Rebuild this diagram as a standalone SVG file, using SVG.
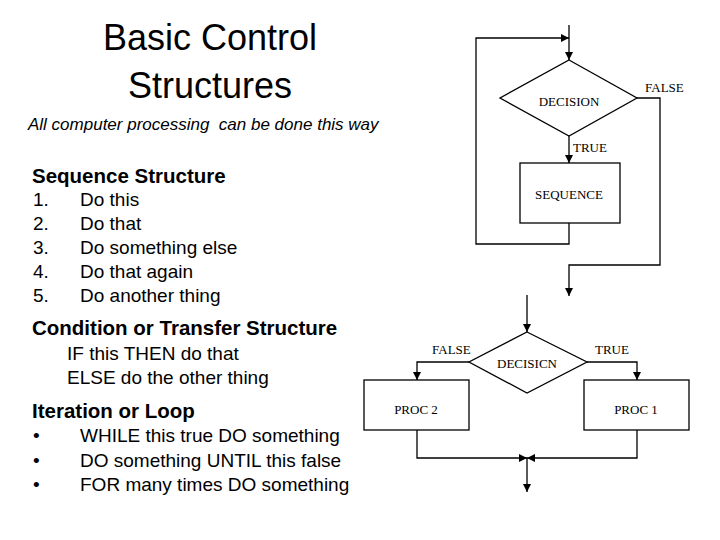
<svg xmlns="http://www.w3.org/2000/svg" width="720" height="540" viewBox="0 0 720 540">
<style>
.t{font-family:"Liberation Sans",Arial,sans-serif;fill:#000}
.h{font-size:20.5px;font-weight:bold}
.b{font-size:19px}
.f{font-family:"Liberation Serif","Times New Roman",serif;font-size:13px;fill:#000}
.s{fill:#fff;stroke:#000;stroke-width:1.3}
.c path{fill:none;stroke:#000;stroke-width:1.3}
</style>
<defs>
<marker id="a" viewBox="0 0 10 10" refX="10" refY="5" markerWidth="8" markerHeight="8" markerUnits="userSpaceOnUse" orient="auto"><path d="M0,0L10,5L0,10z" fill="#000"/></marker>
</defs>
<rect width="720" height="540" fill="#fff"/>
<text class="t" x="210" y="50" font-size="36" text-anchor="middle">Basic Control</text>
<text class="t" x="210" y="98" font-size="36" text-anchor="middle">Structures</text>
<text class="t" x="28" y="130" font-size="17" font-style="italic" xml:space="preserve">All computer processing  can be done this way</text>
<text class="t h" x="32" y="183">Sequence Structure</text>
<g class="t b">
<text x="33" y="206">1.</text><text x="80" y="206">Do this</text>
<text x="33" y="230">2.</text><text x="80" y="230">Do that</text>
<text x="33" y="254">3.</text><text x="80" y="254">Do something else</text>
<text x="33" y="278">4.</text><text x="80" y="278">Do that again</text>
<text x="33" y="302">5.</text><text x="80" y="302">Do another thing</text>
</g>
<text class="t h" x="32" y="335">Condition or Transfer Structure</text>
<text class="t b" x="67" y="360">IF this THEN do that</text>
<text class="t b" x="67" y="384">ELSE do the other thing</text>
<text class="t h" x="32" y="418">Iteration or Loop</text>
<g class="t b">
<text x="33" y="442">•</text><text x="80" y="442">WHILE this true DO something</text>
<text x="33" y="467">•</text><text x="80" y="467">DO something UNTIL this false</text>
<text x="33" y="491">•</text><text x="80" y="491">FOR many times DO something</text>
</g>
<g class="c">
<path d="M569,25V60" marker-end="url(#a)"/>
<path d="M569,223V244H476V38H569" marker-end="url(#a)"/>
<path d="M569,136V163" marker-end="url(#a)"/>
<path d="M637,98H660V265H569V296" marker-end="url(#a)"/>
<path d="M527,295V332" marker-end="url(#a)"/>
<path d="M469,362H417V380" marker-end="url(#a)"/>
<path d="M587,362H637V380" marker-end="url(#a)"/>
<path d="M417,430V458H527" marker-end="url(#a)"/>
<path d="M637,430V458H527" marker-end="url(#a)"/>
<path d="M527,458V492" marker-end="url(#a)"/>
</g>
<g id="decision1"><path class="s" d="M569,60L637,98L569,136L500,98z"/><text class="f" x="569" y="106" text-anchor="middle">DECISION</text></g>
<text class="f" x="645" y="92">FALSE</text>
<text class="f" x="573" y="152">TRUE</text>
<g id="sequence"><rect class="s" x="520" y="163" width="100" height="60"/><text class="f" x="569" y="199" text-anchor="middle">SEQUENCE</text></g>
<g id="decision2"><path class="s" d="M527,332L587,362L527,393L469,362z"/><text class="f" x="527" y="368" text-anchor="middle">DECISICN</text></g>
<text class="f" x="432" y="354">FALSE</text>
<text class="f" x="595" y="354">TRUE</text>
<g id="proc2"><rect class="s" x="364" y="380" width="105" height="50"/><text class="f" x="416" y="414" text-anchor="middle">PROC 2</text></g>
<g id="proc1"><rect class="s" x="584" y="380" width="105" height="50"/><text class="f" x="636" y="414" text-anchor="middle">PROC 1</text></g>
</svg>
